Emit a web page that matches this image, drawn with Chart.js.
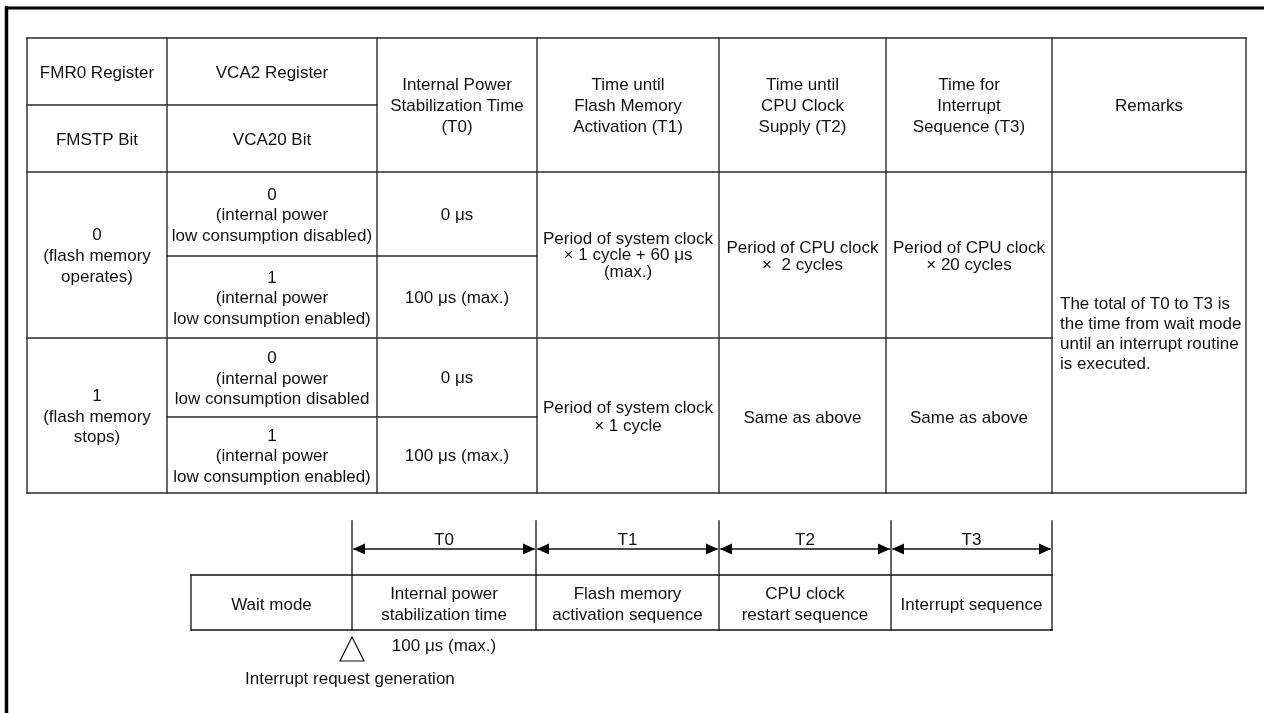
<!DOCTYPE html>
<html>
<head>
<meta charset="utf-8">
<title>Wait mode return time</title>
<script src="https://cdn.jsdelivr.net/npm/chart.js@4.4.1/dist/chart.umd.min.js"></script>
<style>
  html, body { margin: 0; padding: 0; background: #fff; }
  #wrap { width: 1264px; height: 713px; position: relative; }
</style>
</head>
<body>
<div id="wrap"><canvas id="waitChart"></canvas></div>
<script>
// table contents
const registerHeaders = ['FMR0 Register', 'VCA2 Register'];
const bitHeaders = ['FMSTP Bit', 'VCA20 Bit'];
const timeHeaders = [
    ['Internal Power', 'Stabilization Time', '(T0)'],
    ['Time until', 'Flash Memory', 'Activation (T1)'],
    ['Time until', 'CPU Clock', 'Supply (T2)'],
    ['Time for', 'Interrupt', 'Sequence (T3)'],
    ['Remarks']
];
const fmstpValues = [
    ['0', '(flash memory', 'operates)'],
    ['1', '(flash memory', 'stops)']
];
const vca20Values = [
    ['0', '(internal power', 'low consumption disabled)'],
    ['1', '(internal power', 'low consumption enabled)'],
    ['0', '(internal power', 'low consumption disabled'],
    ['1', '(internal power', 'low consumption enabled)']
];
const t0Values = ['0 μs', '100 μs (max.)', '0 μs', '100 μs (max.)'];
const t1Values = [
    ['Period of system clock', '× 1 cycle + 60 μs', '(max.)'],
    ['Period of system clock', '× 1 cycle']
];
const t2Values = [['Period of CPU clock', '×  2 cycles'], ['Same as above']];
const t3Values = [['Period of CPU clock', '× 20 cycles'], ['Same as above']];
const remarksText = ['The total of T0 to T3 is', 'the time from wait mode', 'until an interrupt routine', 'is executed.'];

// timing diagram contents
const phaseLabels = ['T0', 'T1', 'T2', 'T3'];
const phaseBoxes = [
    ['Wait mode'],
    ['Internal power', 'stabilization time'],
    ['Flash memory', 'activation sequence'],
    ['CPU clock', 'restart sequence'],
    ['Interrupt sequence']
];
const t0Note = '100 μs (max.)';
const triggerLabel = 'Interrupt request generation';

// layout (page units)
const colX = [27, 167, 377, 537, 719, 886, 1052, 1246];
const rowY = [38, 105, 172, 256, 338, 417, 493];
const boxX = [191, 352, 536, 719, 891, 1052];
const tickTop = 521, arrowY = 549, labelY = 539, boxTop = 575, boxBottom = 630;

const FONT = '17px "Liberation Sans", Arial, sans-serif';
const TEXT_DY = 1.5; // canvas 'middle' sits a bit high for this face

const tablePlugin = {
    id: 'tablePlugin',
    afterDraw(chart) {
        const ctx = chart.ctx;
        const px = v => chart.scales.x.getPixelForValue(v);
        const py = v => chart.scales.y.getPixelForValue(v);

        function line(x1, y1, x2, y2, w, c) {
            ctx.beginPath();
            ctx.lineWidth = w || 1.4;
            ctx.strokeStyle = c || '#2a2a2a';
            ctx.moveTo(px(x1), py(y1));
            ctx.lineTo(px(x2), py(y2));
            ctx.stroke();
        }
        // lines of text centred on (cx, cy)
        function text(lines, cx, cy, lh, align) {
            ctx.save();
            ctx.font = FONT;
            ctx.fillStyle = '#111';
            ctx.textAlign = align || 'center';
            ctx.textBaseline = 'middle';
            const start = cy + TEXT_DY - (lines.length - 1) * lh / 2;
            lines.forEach((s, i) => ctx.fillText(s, px(cx), py(start + i * lh)));
            ctx.restore();
        }
        const midX = (a, b) => (colX[a] + colX[b]) / 2;
        const midY = (a, b) => (rowY[a] + rowY[b]) / 2;

        ctx.save();
        ctx.lineCap = 'square';

        // outer frame (top and left only)
        line(6.5, 8, 1264, 8, 3, '#000');
        line(6.5, 8, 6.5, 713, 3.5, '#000');

        // table outline + column lines
        line(colX[0], rowY[0], colX[7], rowY[0]);
        line(colX[0], rowY[6], colX[7], rowY[6]);
        colX.forEach(x => line(x, rowY[0], x, rowY[6]));
        // header split for first two columns
        line(colX[0], rowY[1], colX[2], rowY[1]);
        line(colX[0], rowY[2], colX[7], rowY[2]);
        // row between FMSTP groups
        line(colX[0], rowY[4], colX[6], rowY[4]);
        // VCA20 / T0 sub rows
        line(colX[1], rowY[3], colX[3], rowY[3]);
        line(colX[1], rowY[5], colX[3], rowY[5]);

        // header texts
        text([registerHeaders[0]], midX(0, 1), midY(0, 1), 21);
        text([registerHeaders[1]], midX(1, 2), midY(0, 1), 21);
        text([bitHeaders[0]], midX(0, 1), midY(1, 2), 21);
        text([bitHeaders[1]], midX(1, 2), midY(1, 2), 21);
        timeHeaders.forEach((h, i) => text(h, midX(2 + i, 3 + i), midY(0, 2), 21));

        // body
        text(fmstpValues[0], midX(0, 1), midY(2, 4), 21);
        text(fmstpValues[1], midX(0, 1), midY(4, 6), 20.5);
        vca20Values.forEach((v, i) => text(v, midX(1, 2), midY(2 + i, 3 + i), 20.5));
        t0Values.forEach((v, i) => text([v], midX(2, 3), midY(2 + i, 3 + i) - 0.5, 20));
        text(t1Values[0], midX(3, 4), midY(2, 4) - 1, 16.5);
        text(t1Values[1], midX(3, 4), midY(4, 6), 18);
        text(t2Values[0], midX(4, 5), midY(2, 4), 17);
        text(t2Values[1], midX(4, 5), midY(4, 6) + 1, 17);
        text(t3Values[0], midX(5, 6), midY(2, 4), 17);
        text(t3Values[1], midX(5, 6), midY(4, 6) + 1, 17);
        text(remarksText, colX[6] + 8, midY(2, 6), 20, 'left');

        // timing diagram: ticks, box outline, dividers
        boxX.slice(1).forEach(x => line(x, tickTop, x, boxBottom, 1.3, '#111'));
        line(boxX[0], boxTop, boxX[5], boxTop, 1.3, '#111');
        line(boxX[0], boxBottom, boxX[5], boxBottom, 1.3, '#111');
        line(boxX[0], boxTop, boxX[0], boxBottom, 1.3, '#111');

        // dimension arrows
        function head(x, y, dir) {
            ctx.beginPath();
            ctx.fillStyle = '#000';
            ctx.moveTo(px(x), py(y));
            ctx.lineTo(px(x + dir * 12), py(y - 5.5));
            ctx.lineTo(px(x + dir * 12), py(y + 5.5));
            ctx.closePath();
            ctx.fill();
        }
        phaseLabels.forEach((lab, i) => {
            const a = boxX[i + 1], b = boxX[i + 2];
            line(a + 2, arrowY, b - 2, arrowY, 1.3, '#111');
            head(a + 1, arrowY, 1);
            head(b - 1, arrowY, -1);
            text([lab], (a + b) / 2, labelY, 20);
        });
        phaseBoxes.forEach((b, i) => text(b, (boxX[i] + boxX[i + 1]) / 2, (boxTop + boxBottom) / 2 + 1, 21));

        text([t0Note], (boxX[1] + boxX[2]) / 2, 645, 20);

        // trigger triangle
        ctx.beginPath();
        ctx.lineWidth = 1.2;
        ctx.strokeStyle = '#111';
        ctx.moveTo(px(352), py(637));
        ctx.lineTo(px(340), py(661));
        ctx.lineTo(px(364), py(661));
        ctx.closePath();
        ctx.stroke();
        text([triggerLabel], 245, 678, 20, 'left');

        ctx.restore();
    }
};

new Chart(document.getElementById('waitChart').getContext('2d'), {
    type: 'scatter',
    data: { datasets: [{ data: [], pointRadius: 0 }] },
    options: {
        responsive: true,
        maintainAspectRatio: false,
        animation: false,
        layout: { padding: 0 },
        scales: {
            x: { type: 'linear', min: 0, max: 1264, display: false },
            y: { type: 'linear', min: 0, max: 713, reverse: true, display: false }
        },
        plugins: { legend: { display: false }, tooltip: { enabled: false } }
    },
    plugins: [tablePlugin]
});
</script>
</body>
</html>
